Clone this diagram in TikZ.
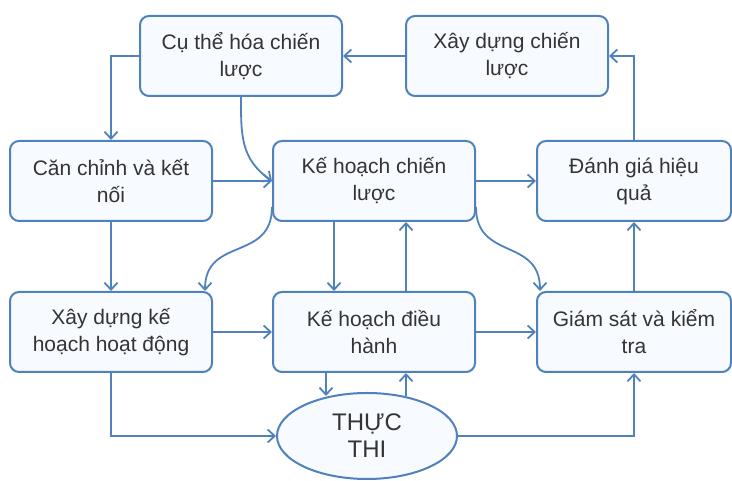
\documentclass[tikz,border=0pt]{standalone}
\usepackage{fontspec}
\setmainfont{Liberation Sans}
\usepackage{tikz}
\usetikzlibrary{arrows.meta,shapes,calc}
\definecolor{linkblue}{RGB}{79,129,189}
\definecolor{boxfill}{RGB}{247,250,254}
\definecolor{txtgray}{RGB}{52,52,52}

\begin{document}
\begin{tikzpicture}[
			x=1pt,y=1pt,
			box/.style={rectangle,rounded corners=9pt,draw=linkblue,line width=2pt,fill=boxfill,text=txtgray,minimum width=202pt,minimum height=80pt,align=center,font=\fontsize{21}{27}\selectfont},
			oval/.style={ellipse,draw=linkblue,line width=2pt,fill=boxfill,text=txtgray,minimum width=180pt,minimum height=86pt,inner sep=0pt,align=center,font=\fontsize{24}{27}\selectfont},
			link/.style={draw=linkblue,line width=1.8pt,-{Straight Barb[length=7pt,width=13pt]}},
			]
			\useasboundingbox (0,0) rectangle (732,481);
			\node [box] (khcl) at (374,300) {Kế hoạch chiến\\lược};
			\node [box,left of=khcl,node distance=263pt] (cckn) {Căn chỉnh và kết\\nối};
			\node [box,minimum width=194pt,right of=khcl,node distance=260pt] (dghq) {Đánh giá hiệu\\quả};
			\node [box,below of=cckn,node distance=151pt] (xdkh) {Xây dựng kế\\hoạch hoạt động};
			\node [box,below of=khcl,node distance=151pt] (khdh) {Kế hoạch điều\\hành};
			\node [box,minimum width=194pt,below of=dghq,node distance=151pt] (gskt) {Giám sát và kiểm\\tra};
			\node [box] (cth) at (241,425) {Cụ thể hóa chiến\\lược};
			\node [box,right of=cth,node distance=266pt] (xdcl) {Xây dựng chiến\\lược};
			\node [oval] (tt) at (367,45) {THỰC\\THI};
			% top loop
			\path [link] (xdcl) -- (cth);
			\path [link] (dghq.north) |- (xdcl.east);
			\path [link] (cth.west) -| (cckn.north);
			\path [link] (cth.south) to [out=-90,in=145,looseness=1.1] (khcl.west);
			% middle row
			\path [link] (cckn) -- (khcl);
			\path [link] (khcl) -- (dghq);
			\path [link] (cckn) -- (xdkh);
			\path [link] ([yshift=-26pt]khcl.west) to [out=-90,in=90,looseness=1.3] ([xshift=94pt]xdkh.north);
			\path [link] ([yshift=-26pt]khcl.east) to [out=-90,in=90,looseness=1.3] ([xshift=-94pt]gskt.north);
			\path [link] ([xshift=-40pt]khcl.south) -- ([xshift=-40pt]khdh.north);
			\path [link] ([xshift=32pt]khdh.north) -- ([xshift=32pt]khcl.south);
			% bottom row
			\path [link] (xdkh) -- (khdh);
			\path [link] (khdh) -- (gskt);
			\path [link] (gskt) -- (dghq);
			\path [link] (xdkh.south) |- (tt.west);
			\path [link] ([xshift=-48pt]khdh.south) -- ([xshift=-41pt,yshift=-4pt]tt.north);
			\path [link] ([xshift=39pt,yshift=-4pt]tt.north) -- ([xshift=32pt]khdh.south);
			\path [link] (tt.east) -| (gskt.south);
		\end{tikzpicture}
\end{document}
